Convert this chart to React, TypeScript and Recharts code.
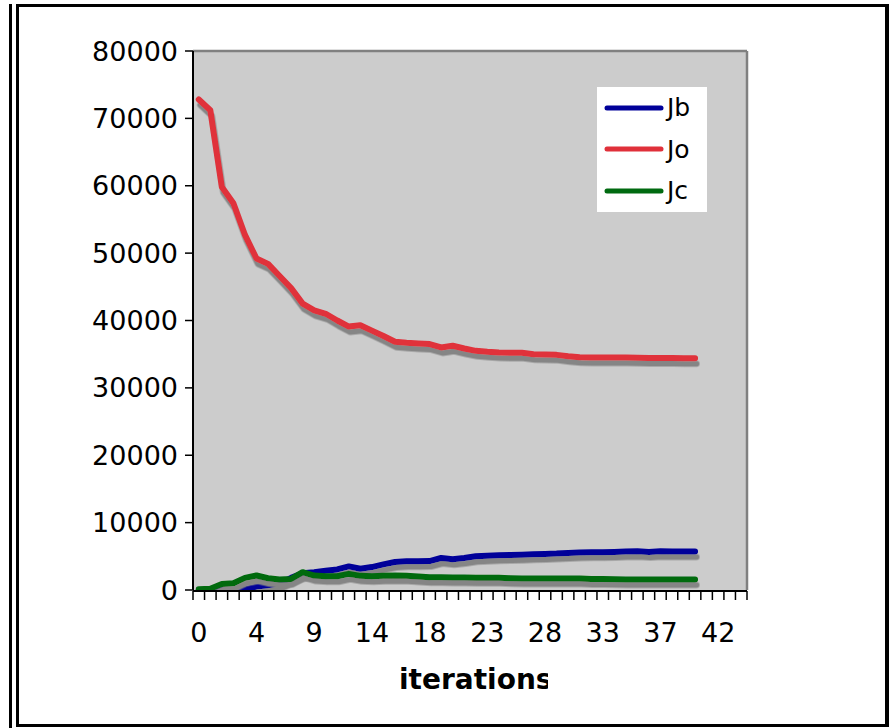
import { LineChart, Line, XAxis, YAxis, CartesianGrid, ReferenceLine } from "recharts";

// iterations shown on the category axis, one label every LABEL_EVERY categories
const ITERATION_LABELS = ["0", "4", "9", "14", "18", "23", "28", "33", "37", "42"];
const CATEGORY_COUNT = 48;
const LABEL_EVERY = 5;

const Y_TICKS = [0, 10000, 20000, 30000, 40000, 50000, 60000, 70000, 80000];

const JB = [
  0, 0, 0, 0, 100, 500, 700, 1000, 1800, 2500,
  2650, 2850, 3050, 3500, 3150, 3400, 3800, 4150, 4250, 4250,
  4300, 4750, 4550, 4750, 5000, 5100, 5150, 5200, 5250, 5300,
  5350, 5400, 5500, 5550, 5600, 5600, 5650, 5700, 5750, 5650,
  5750, 5700, 5700, 5700,
];

const JO = [
  72800, 71200, 59800, 57400, 52700, 49200, 48400, 46600, 44800, 42500,
  41500, 41000, 40000, 39100, 39300, 38500, 37700, 36850, 36700, 36600,
  36500, 36000, 36250, 35850, 35500, 35350, 35250, 35200, 35200, 35000,
  34950, 34900, 34700, 34550, 34500, 34500, 34500, 34500, 34480, 34450,
  34450, 34430, 34400, 34400,
];

const JC = [
  100, 200, 900, 1000, 1800, 2150, 1750, 1550, 1650, 2650,
  2150, 2050, 2050, 2400, 2100, 2050, 2100, 2150, 2100, 2000,
  1900, 1900, 1850, 1850, 1800, 1800, 1800, 1750, 1700, 1700,
  1700, 1700, 1700, 1700, 1650, 1650, 1600, 1550, 1550, 1550,
  1550, 1550, 1550, 1550,
];

const SERIES = [
  { key: "Jb", color: "#000099" },
  { key: "Jo", color: "#E0303A" },
  { key: "Jc", color: "#006A10" },
];

const FONT = "'DejaVu Sans', Verdana, sans-serif";

const data = Array.from({ length: CATEGORY_COUNT }, (_, i) => ({
  idx: i,
  Jb: JB[i] ?? null,
  Jo: JO[i] ?? null,
  Jc: JC[i] ?? null,
}));

// tick marks sit between categories, labels at category centres
const boundaries = Array.from({ length: CATEGORY_COUNT + 1 }, (_, i) => i - 0.5);
const labelPositions = ITERATION_LABELS.map((_, i) => i * LABEL_EVERY);

function LegendBox() {
  return (
    <div
      style={{
        position: "absolute",
        left: 597,
        top: 87,
        width: 110,
        height: 125,
        background: "#fff",
      }}
    >
      {SERIES.map((s) => (
        <div key={s.key} style={{ display: "flex", alignItems: "center", height: 41.5 }}>
          <svg width={70} height={10} style={{ flex: "none" }}>
            <line x1={10} y1={5} x2={64} y2={5} stroke={s.color} strokeWidth={5} strokeLinecap="round" />
          </svg>
          <span style={{ fontFamily: FONT, fontSize: 25, color: "#000" }}>{s.key}</span>
        </div>
      ))}
    </div>
  );
}

export default function App() {
  return (
    <div style={{ position: "absolute", left: 0, top: 0, width: 893, height: 728, background: "#fff" }}>
      <style>{`.shadowed path.recharts-curve { filter: url(#lineShadow); }`}</style>

      {/* frame */}
      <div style={{ position: "absolute", left: 9, top: 4, width: 3, height: 724, background: "#000" }} />
      <div
        style={{
          position: "absolute",
          left: 16,
          top: 4,
          width: 873,
          height: 723,
          boxSizing: "border-box",
          border: "3px solid #000",
          borderRightWidth: 4,
        }}
      />

      <div style={{ position: "absolute", left: 0, top: 0 }}>
        <LineChart width={893} height={728} data={data} margin={{ top: 51, right: 146, bottom: 136, left: 93 }}>
          <defs>
            <filter id="lineShadow" filterUnits="userSpaceOnUse" x={0} y={0} width={893} height={728}>
              <feDropShadow dx={1.5} dy={5.5} stdDeviation={0} floodColor="#858585" floodOpacity={1} />
            </filter>
          </defs>
          <CartesianGrid xAxisId="marks" horizontal={false} vertical={false} fill="#CCCCCC" />
          <ReferenceLine xAxisId="marks" y={80000} stroke="#808080" strokeWidth={2.5} />
          <ReferenceLine xAxisId="marks" x={CATEGORY_COUNT - 0.5} stroke="#808080" strokeWidth={2.5} />
          <XAxis
            xAxisId="marks"
            type="number"
            dataKey="idx"
            domain={[-0.5, CATEGORY_COUNT - 0.5]}
            ticks={boundaries}
            interval={0}
            tickFormatter={() => ""}
            tickSize={9}
            tickLine={{ stroke: "#000", strokeWidth: 1.5 }}
            axisLine={{ stroke: "#000", strokeWidth: 2 }}
            height={1}
            allowDataOverflow
          />
          <XAxis
            xAxisId="labels"
            type="number"
            dataKey="idx"
            domain={[-0.5, CATEGORY_COUNT - 0.5]}
            ticks={labelPositions}
            interval={0}
            tickFormatter={(v: number) => ITERATION_LABELS[Math.round(v / LABEL_EVERY)] ?? ""}
            axisLine={false}
            tickLine={false}
            tickSize={8}
            tickMargin={25}
            height={1}
            tick={{ fontSize: 27, fill: "#000", fontFamily: FONT }}
            allowDataOverflow
          />
          <YAxis
            domain={[0, 80000]}
            ticks={Y_TICKS}
            interval={0}
            width={100}
            tickSize={8}
            tickMargin={7}
            tickLine={{ stroke: "#000", strokeWidth: 1.5 }}
            axisLine={{ stroke: "#000", strokeWidth: 2 }}
            tick={{ fontSize: 27, fill: "#000", fontFamily: FONT }}
            allowDataOverflow
          />
          {SERIES.map((s) => (
            <Line
              key={s.key}
              xAxisId="marks"
              className="shadowed"
              type="linear"
              dataKey={s.key}
              name={s.key}
              stroke={s.color}
              strokeWidth={6}
              strokeLinejoin="round"
              strokeLinecap="round"
              dot={false}
              activeDot={false}
              connectNulls={false}
              isAnimationActive={false}
            />
          ))}
        </LineChart>
      </div>

      <LegendBox />

      {/* axis title, clipped like the original text box */}
      <div
        style={{
          position: "absolute",
          left: 399,
          top: 663,
          width: 149,
          overflow: "hidden",
          whiteSpace: "nowrap",
          fontFamily: FONT,
          fontWeight: "bold",
          fontSize: 28,
          lineHeight: "34px",
          color: "#000",
        }}
      >
        iterations
      </div>
    </div>
  );
}
